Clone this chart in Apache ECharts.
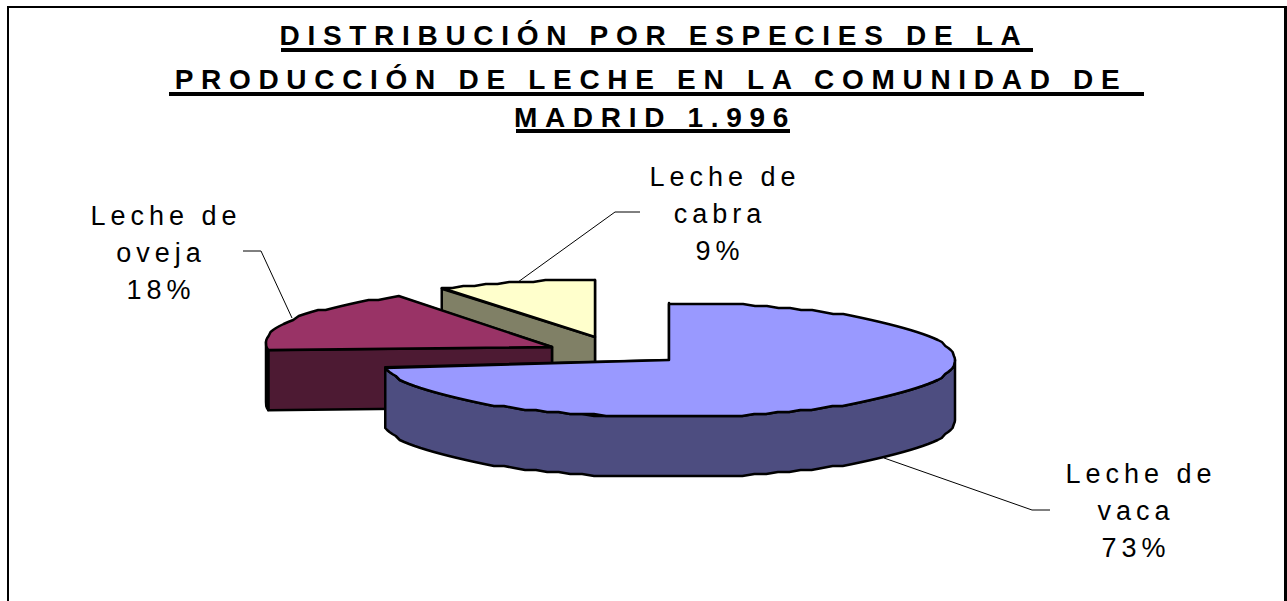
<!DOCTYPE html>
<html>
<head>
<meta charset="utf-8">
<title>Distribución por especies</title>
<script src="https://cdn.jsdelivr.net/npm/echarts@6/dist/echarts.min.js"></script>
<style>
  html, body { margin: 0; padding: 0; background: #fff; }
  #chart { width: 1287px; height: 601px; }
  /* the canvas api has no tracking, so the wide letters come from css on the svg text */
  #chart text { letter-spacing: 5px; }
  #chart text[style*="bold"] { letter-spacing: 7.7px; }
</style>
</head>
<body>
<div id="chart"></div>
<script>
const titleLines = ['DISTRIBUCIÓN POR ESPECIES DE LA', 'PRODUCCIÓN DE LECHE EN LA COMUNIDAD DE', 'MADRID 1.996']
const categories = ['Leche de\nvaca', 'Leche de\noveja', 'Leche de\ncabra']
const values = [73, 18, 9]

const topColors = ['#9999ff', '#993366', '#ffffcc']
const sideColors = ['#4d4d80', '#4d1a33', '#808066']

// pie geometry in pixels
const center = [669, 360]
const rx = 286
const ry = 57
const depth = 60
const explode = [[0, 0], [-117, -13], [-74, -23]]
const tilt = [0, 0.014, 0]
const labelPos = [[1141, 511], [166, 253], [725, 214]]
const labelLineShift = [0, -5, -5]
const titleTops = [16, 60, 98]
const titleLefts = [649, 646, 650]
const leaders = [
  [[884, 458], [1032, 510], [1050, 510]],
  [[292, 318], [261, 251], [243, 251]],
  [[518, 282], [615, 212], [640, 212]]
]
const total = values.reduce((a, b) => a + b, 0)

function rimPoint(c, deg, k) {
  const a = (deg * Math.PI) / 180
  const dx = rx * Math.sin(a)
  return [c[0] + dx, c[1] - ry * Math.cos(a) + dx * k]
}

function arcPoints(c, from, to, k) {
  // small steps and a 2px grid in y, the original outline is jagged too
  const pts = []
  const n = Math.max(1, Math.round((to - from) / 2.5))
  for (let i = 0; i <= n; i++) {
    const p = rimPoint(c, from + ((to - from) * i) / n, k)
    pts.push([p[0], Math.round(p[1] / 2) * 2])
  }
  return pts
}

function down(p) {
  return [p[0], p[1] + depth]
}

function renderSlice(params, api) {
  const i = params.dataIndex
  let start = 0
  for (let k = 0; k < i; k++) start += (values[k] / total) * 360
  const end = start + (api.value(0) / total) * 360
  const c = [center[0] + explode[i][0], center[1] + explode[i][1]]
  const lineStyle = { stroke: '#000', lineWidth: 2.5, lineJoin: 'round' }
  const children = []
  let z = 30 - i * 10 // later slices sit behind the first one

  const poly = (points, fill) => {
    children.push({
      type: 'polygon',
      z2: z++,
      shape: { points: points },
      style: Object.assign({ fill: fill }, lineStyle)
    })
  }

  // cut faces, far one first
  const cuts = [rimPoint(c, start, tilt[i]), rimPoint(c, end, tilt[i])].sort((a, b) => a[1] - b[1])
  cuts.forEach(p => poly([p, c, down(c), down(p)], sideColors[i]))

  // rim wall, only the front half of the ellipse shows
  const from = Math.max(start, 90)
  const to = Math.min(end, 270)
  if (to > from) {
    const arc = arcPoints(c, from, to, tilt[i])
    poly(arc.concat(arc.map(down).reverse()), sideColors[i])
  }

  // top face
  poly([c].concat(arcPoints(c, start, end, tilt[i])), topColors[i])

  // leader and label
  children.push({
    type: 'polyline',
    z2: 1,
    shape: { points: leaders[i] },
    style: { stroke: '#000', lineWidth: 1, fill: null }
  })
  const lines = (categories[i] + '\n' + Math.round((values[i] / total) * 100) + '%').split('\n')
  lines.forEach((line, j) => {
    children.push({
      type: 'text',
      z2: 60,
      x: labelPos[i][0] + labelLineShift[j],
      y: labelPos[i][1] + (j - 1) * 37,
      style: {
        text: line,
        font: '27px "Liberation Sans"',
        fill: '#000',
        align: 'center',
        verticalAlign: 'middle'
      }
    })
  })
  return { type: 'group', children: children }
}

const chart = echarts.init(document.getElementById('chart'), null, { renderer: 'svg' })
chart.setOption({
  animation: false,
  backgroundColor: '#fff',
  title: titleLines.map((line, i) => ({
    text: line,
    left: titleLefts[i],
    top: titleTops[i],
    textAlign: 'center',
    textStyle: {
      fontFamily: 'Liberation Sans',
      fontWeight: 'bold',
      fontSize: 28,
      color: '#000'
    }
  })),
  graphic: [
    { type: 'rect', shape: { x: 8, y: 7, width: 1277, height: 700 }, style: { fill: null, stroke: '#000', lineWidth: 2 } },
    { type: 'line', shape: { x1: 1285.5, y1: 6, x2: 1285.5, y2: 601 }, style: { stroke: '#000', lineWidth: 3 } },
    { type: 'line', shape: { x1: 281, y1: 50, x2: 1033, y2: 50 }, style: { stroke: '#000', lineWidth: 4 } },
    { type: 'line', shape: { x1: 169, y1: 94, x2: 1144, y2: 94 }, style: { stroke: '#000', lineWidth: 4 } },
    { type: 'line', shape: { x1: 516, y1: 131, x2: 790, y2: 131 }, style: { stroke: '#000', lineWidth: 4 } }
  ],
  series: [
    {
      type: 'custom',
      coordinateSystem: 'none',
      silent: true,
      renderItem: renderSlice,
      data: values.map(v => [v])
    }
  ]
})
</script>
</body>
</html>
